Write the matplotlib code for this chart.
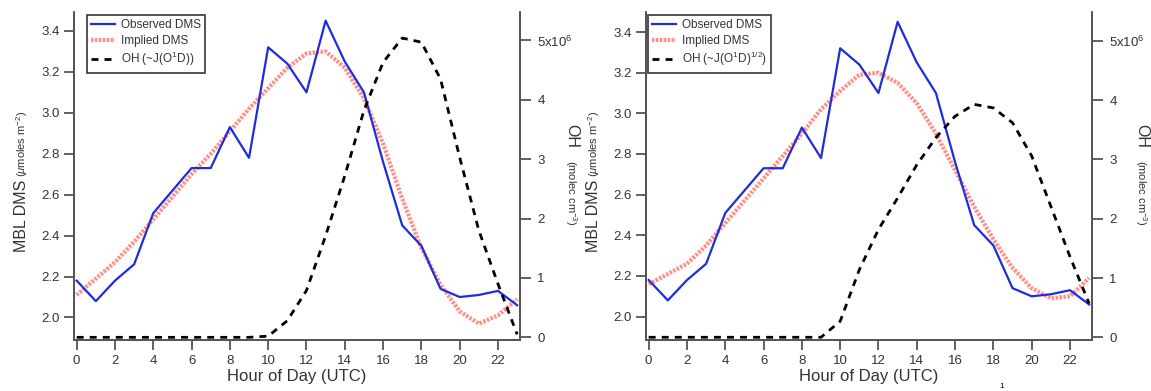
import matplotlib
matplotlib.use("Agg")
import matplotlib.pyplot as plt
import numpy as np

plt.rcParams['font.family'] = ['Liberation Sans', 'DejaVu Sans']
plt.rcParams['mathtext.fontset'] = 'custom'
plt.rcParams['mathtext.rm'] = 'Liberation Sans'
plt.rcParams['mathtext.it'] = 'Liberation Sans:italic'
plt.rcParams['mathtext.bf'] = 'Liberation Sans:bold'

hours = list(range(24))

observed_dms = [2.18, 2.08, 2.18, 2.26, 2.51, 2.62, 2.73, 2.73, 2.93, 2.78, 3.32, 3.24,
                3.10, 3.45, 3.25, 3.10, 2.76, 2.45, 2.35, 2.14, 2.10, 2.11, 2.13, 2.06]

implied_left = [2.11, 2.19, 2.27, 2.37, 2.48, 2.59, 2.70, 2.80, 2.91, 3.02, 3.12, 3.22,
                3.29, 3.30, 3.22, 3.07, 2.85, 2.58, 2.34, 2.16, 2.03, 1.97, 2.01, 2.09]
implied_right = [2.16, 2.21, 2.26, 2.35, 2.46, 2.57, 2.68, 2.79, 2.90, 3.02, 3.11, 3.19,
                 3.20, 3.15, 3.05, 2.90, 2.72, 2.54, 2.38, 2.24, 2.14, 2.09, 2.10, 2.19]

# OH in units of 1e6 molec cm-3
oh_left = [0, 0, 0, 0, 0, 0, 0, 0, 0, 0, 0.02, 0.28,
           0.79, 1.71, 2.72, 3.82, 4.63, 5.04, 4.97, 4.35, 3.03, 1.80, 0.90, 0.05]
oh_right = [0, 0, 0, 0, 0, 0, 0, 0, 0, 0, 0.27, 1.14,
            1.82, 2.35, 2.91, 3.37, 3.73, 3.93, 3.87, 3.62, 3.06, 2.21, 1.36, 0.57]

oh_labels = [r'OH (~J(O$^{1}$D))', r'OH (~J(O$^{1}$D)$^{1/2}$)']

W, H = 1151, 391
fig = plt.figure(figsize=(W / 100, H / 100), dpi=100)

gray = '#555555'
txt = '#333333'

def px(x, y):
    return x / W, 1 - y / H

panels = [
    dict(left=74, implied=implied_left, oh=oh_left, lab=oh_labels[0],
         ylim=(1.89, 3.49), ylim2=(-0.045, 5.47), leg=(87, 15), ohx=567),
    dict(left=646, implied=implied_right, oh=oh_right, lab=oh_labels[1],
         ylim=(1.885, 3.496), ylim2=(-0.046, 5.48), leg=(648, 15), ohx=1137),
]

for p in panels:
    ax = fig.add_axes([p['left'] / W, 1 - 340 / H, 446 / W, 327.5 / H])
    ax2 = ax.twinx()

    l1, = ax.plot(hours, observed_dms, color='#1e2ddc', lw=1.6, zorder=3)
    l2, = ax.plot(hours, p['implied'], color='#ff8f85', lw=3.0,
                  ls=(0, (0.6, 0.35)), zorder=2)
    l3, = ax2.plot(hours, p['oh'], color='black', lw=2, dashes=(2.5, 2.2))

    ax.set_xlim(-0.14, 23.15)
    ax.set_ylim(*p['ylim'])
    ax2.set_ylim(*p['ylim2'])

    ax.set_xticks(range(0, 23, 2))
    ax.set_yticks(np.arange(2.0, 3.41, 0.2))
    ax.set_yticklabels(['%.1f' % v for v in np.arange(2.0, 3.41, 0.2)])
    ax2.set_yticks(range(6))
    ax2.set_yticklabels(['0', '1', '2', '3', '4', r'5x10$^{6}$'])

    for a in (ax, ax2):
        a.spines['top'].set_visible(False)
        for s in ('left', 'right', 'bottom'):
            a.spines[s].set_color(gray)
            a.spines[s].set_linewidth(1.3)
    ax.tick_params(axis='both', direction='out', length=7, width=1.3, color=gray,
                   labelcolor=txt, labelsize=9.5, pad=3.5)
    ax2.tick_params(axis='y', direction='out', length=8, width=1.3, color=gray,
                    labelcolor=txt, labelsize=9.5, pad=4.5)

    ax.set_xlabel('Hour of Day (UTC)', fontsize=12, color=txt, labelpad=2)

    # left y label: big name + small units, baselines aligned
    bx, by = px(p['left'] - 48, 180)
    fig.text(bx, by, 'MBL DMS', rotation=90, rotation_mode='anchor',
             ha='right', va='baseline', fontsize=11.5, color=txt)
    fig.text(bx, by + 3 / H, r'($\mu$moles m$^{-2}$)', rotation=90,
             rotation_mode='anchor', ha='left', va='baseline', fontsize=8, color=txt)

    # right y label
    ox, oy = px(p['ohx'], 148)
    fig.text(ox, oy, 'OH', rotation=270, rotation_mode='anchor',
             ha='right', va='baseline', fontsize=11.5, color=txt)
    fig.text(ox, oy - 12 / H, r'(molec cm$^{-3}$)', rotation=270,
             rotation_mode='anchor', ha='left', va='baseline', fontsize=8, color=txt)

    leg = ax2.legend([l1, l2, l3], ['Observed DMS', 'Implied DMS', p['lab']],
                     loc='upper left', bbox_to_anchor=px(*p['leg']),
                     bbox_transform=fig.transFigure, borderaxespad=0,
                     fontsize=8.5, handlelength=2.0, handletextpad=0.5,
                     labelspacing=0.3, borderpad=0.35, fancybox=False,
                     framealpha=1)
    leg.get_frame().set_edgecolor('#444444')
    leg.get_frame().set_linewidth(1.3)
    for t in leg.get_texts():
        t.set_color(txt)

# small glyph at the bottom edge of the source image
fig.text(1002 / W, 1 - 390 / H, '1', ha='center', va='bottom', fontsize=6, color='black')

fig.savefig('out.png', dpi=100)
